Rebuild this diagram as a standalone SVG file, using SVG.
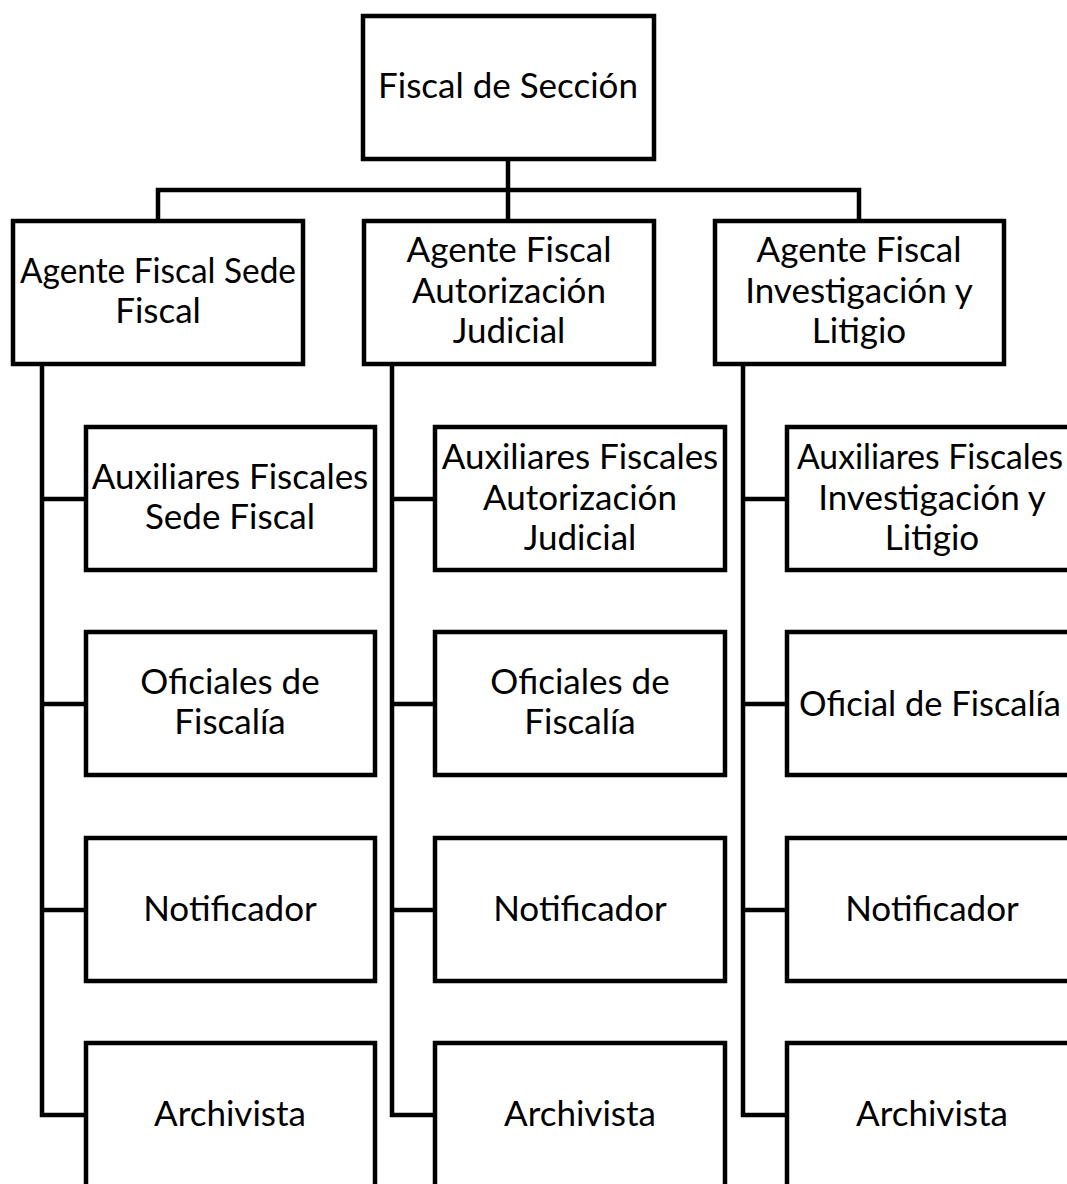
<svg xmlns="http://www.w3.org/2000/svg" width="1067" height="1184" viewBox="0 0 1067 1184">
<style>
.box{fill:#fff;stroke:#000;stroke-width:4.5}
.con{fill:none;stroke:#000;stroke-width:4.5;stroke-linejoin:miter}
text{font-family:Lato,"Open Sans",sans-serif;font-size:35px;fill:#000;text-anchor:middle}
</style>
<rect width="1067" height="1184" fill="#fff"/>
<g id="connectors">
<path class="con" d="M508,159 V222 M158,222 V190 H859 V222"/>
<path class="con" d="M42,365 V1115 H86 M42,499 H86 M42,704 H86 M42,910 H86"/>
<path class="con" d="M392,365 V1115 H435 M392,499 H435 M392,704 H435 M392,910 H435"/>
<path class="con" d="M743,365 V1115 H787 M743,499 H787 M743,704 H787 M743,910 H787"/>
</g>
<g id="fiscal-seccion"><rect class="box" x="363" y="16" width="291" height="143"/><text x="508" y="98">Fiscal de Sección</text></g>
<g id="agente-sede"><rect class="box" x="13" y="221" width="290" height="143"/><text x="158" y="283" textLength="276" lengthAdjust="spacingAndGlyphs">Agente Fiscal Sede</text><text x="158" y="323">Fiscal</text></g>
<g id="agente-autorizacion"><rect class="box" x="364" y="221" width="290" height="143"/><text x="509" y="262">Agente Fiscal</text><text x="509" y="303">Autorización</text><text x="509" y="343">Judicial</text></g>
<g id="agente-investigacion"><rect class="box" x="715" y="221" width="289" height="143"/><text x="859" y="262">Agente Fiscal</text><text x="859" y="303">Investigación y</text><text x="859" y="343">Litigio</text></g>

<g id="aux-sede"><rect class="box" x="86" y="427" width="289" height="143"/><text x="230" y="489">Auxiliares Fiscales</text><text x="230" y="529">Sede Fiscal</text></g>
<g id="ofi-sede"><rect class="box" x="86" y="632" width="289" height="143"/><text x="230" y="694">Oficiales de</text><text x="230" y="734">Fiscalía</text></g>
<g id="not-sede"><rect class="box" x="86" y="838" width="289" height="143"/><text x="230" y="921">Notificador</text></g>
<g id="arc-sede"><rect class="box" x="86" y="1043" width="289" height="200"/><text x="230" y="1126">Archivista</text></g>

<g id="aux-aut"><rect class="box" x="435" y="427" width="290" height="143"/><text x="580" y="469">Auxiliares Fiscales</text><text x="580" y="510">Autorización</text><text x="580" y="550">Judicial</text></g>
<g id="ofi-aut"><rect class="box" x="435" y="632" width="290" height="143"/><text x="580" y="694">Oficiales de</text><text x="580" y="734">Fiscalía</text></g>
<g id="not-aut"><rect class="box" x="435" y="838" width="290" height="143"/><text x="580" y="921">Notificador</text></g>
<g id="arc-aut"><rect class="box" x="435" y="1043" width="290" height="200"/><text x="580" y="1126">Archivista</text></g>

<g id="aux-inv"><rect class="box" x="787" y="427" width="290" height="143"/><text x="930" y="469" textLength="266" lengthAdjust="spacingAndGlyphs">Auxiliares Fiscales</text><text x="932" y="510">Investigación y</text><text x="932" y="550">Litigio</text></g>
<g id="ofi-inv"><rect class="box" x="787" y="632" width="290" height="143"/><text x="930" y="716" textLength="262" lengthAdjust="spacingAndGlyphs">Oficial de Fiscalía</text></g>
<g id="not-inv"><rect class="box" x="787" y="838" width="290" height="143"/><text x="932" y="921">Notificador</text></g>
<g id="arc-inv"><rect class="box" x="787" y="1043" width="290" height="200"/><text x="932" y="1126">Archivista</text></g>
</svg>
